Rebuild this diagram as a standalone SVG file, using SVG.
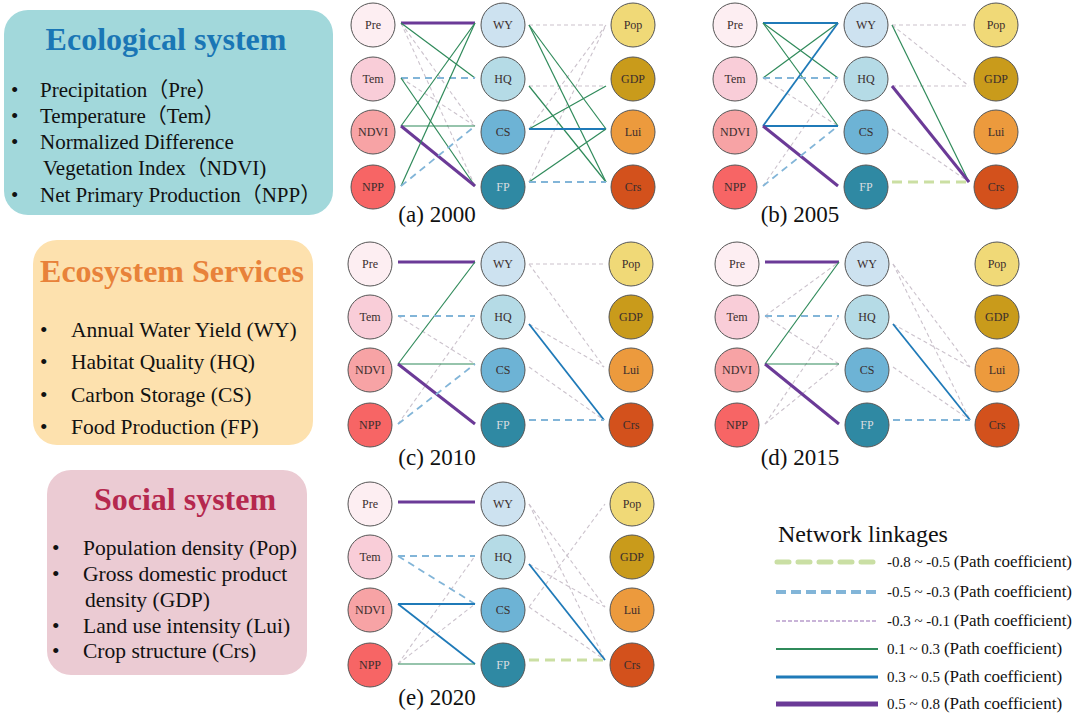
<svg xmlns="http://www.w3.org/2000/svg" width="1080" height="718" viewBox="0 0 1080 718">
<style>
.bg{fill:#ffffff}
.box-t{font-family:"Liberation Serif",serif;font-weight:bold;font-size:32px;text-anchor:middle}
.body{font-family:"Liberation Serif","Noto Sans CJK SC",serif;font-size:21px;fill:#111}
.body2{font-family:"Liberation Serif",serif;font-size:21.5px;fill:#111}
.nd circle{stroke:#555;stroke-width:1}
.nd text{font-family:"Liberation Serif",serif;font-size:12px;text-anchor:middle;fill:#3a2d2d}
.nd.lt text{fill:#d8dde0}
.cap{font-family:"Liberation Serif",serif;font-size:23px;text-anchor:middle;fill:#111}
#connectors line{fill:none}
.pu{stroke:#6b3a97;stroke-width:3}
.bl{stroke:#1f7ab8;stroke-width:1.8}
.gr{stroke:#2f8a5a;stroke-width:1.2}
.bd{stroke:#82b5d8;stroke-width:1.8;stroke-dasharray:7 5}
.gd{stroke:#cbc2cc;stroke-width:1.1;stroke-dasharray:4 3}
.lg{stroke:#cbdfa3;stroke-width:2.8;stroke-dasharray:10 6}
.c-pre{fill:#fdeef2}.c-tem{fill:#f9cdd8}.c-ndvi{fill:#f7a3a5}.c-npp{fill:#f76565}
.c-wy{fill:#cde2f0}.c-hq{fill:#b5dbe6}.c-cs{fill:#6db3d5}.c-fp{fill:#2f89a3}
.c-pop{fill:#f0d977}.c-gdp{fill:#c99b1b}.c-lui{fill:#ec9a3d}.c-crs{fill:#d3511c}
.lgt{font-family:"Liberation Serif",serif;fill:#111}
</style>
<rect class="bg" x="0" y="0" width="1080" height="718"/>

<!-- Left description boxes -->
<g id="box-ecological">
<rect x="4" y="10" width="329" height="205" rx="24" fill="#a2d8db"/>
<text class="box-t" x="166" y="50" fill="#1a76b5">Ecological system</text>
<g class="body">
<text x="11" y="97">•</text><text x="40" y="97">Precipitation（Pre）</text>
<text x="11" y="123">•</text><text x="40" y="123">Temperature（Tem）</text>
<text x="11" y="149">•</text><text x="40" y="149">Normalized Difference</text>
<text x="43" y="175">Vegetation Index（NDVI)</text>
<text x="11" y="202">•</text><text x="40" y="202">Net Primary Production（NPP）</text>
</g>
</g>

<g id="box-services">
<rect x="33" y="240" width="280" height="205" rx="24" fill="#fde1ae"/>
<text class="box-t" x="172" y="282" fill="#e8823a">Ecosystem Services</text>
<g class="body2">
<text x="40" y="337">•</text><text x="71" y="337">Annual Water Yield (WY)</text>
<text x="40" y="369">•</text><text x="71" y="369">Habitat Quality (HQ)</text>
<text x="40" y="402">•</text><text x="71" y="402">Carbon Storage (CS)</text>
<text x="40" y="434">•</text><text x="71" y="434">Food Production (FP)</text>
</g>
</g>

<g id="box-social">
<rect x="47" y="470" width="260" height="205" rx="24" fill="#ebcbd3"/>
<text class="box-t" x="185" y="510" fill="#b5284e">Social system</text>
<g class="body2">
<text x="52" y="555">•</text><text x="83" y="555">Population density (Pop)</text>
<text x="52" y="581">•</text><text x="83" y="581">Gross domestic product</text>
<text x="85" y="607">density (GDP)</text>
<text x="52" y="633">•</text><text x="83" y="633">Land use intensity (Lui)</text>
<text x="52" y="658">•</text><text x="83" y="658">Crop structure (Crs)</text>
</g>
</g>

<!-- Connectors -->
<g id="connectors">
<!-- panel a -->
<line class="gd" x1="401" y1="23" x2="475" y2="126"/>
<line class="gd" x1="401" y1="23" x2="475" y2="186"/>
<line class="gd" x1="401" y1="78" x2="475" y2="126"/>
<line class="pu" x1="401" y1="23" x2="475" y2="23"/>
<line class="gr" x1="401" y1="23" x2="475" y2="78"/>
<line class="bd" x1="401" y1="78" x2="475" y2="78"/>
<line class="gr" x1="401" y1="78" x2="475" y2="186"/>
<line class="gr" x1="401" y1="126" x2="475" y2="23"/>
<line class="gr" x1="401" y1="126" x2="475" y2="126"/>
<line class="pu" x1="401" y1="126" x2="475" y2="186"/>
<line class="gr" x1="401" y1="186" x2="475" y2="23"/>
<line class="bd" x1="401" y1="186" x2="475" y2="126"/>
<line class="gd" x1="529" y1="25" x2="606" y2="25"/>
<line class="gd" x1="529" y1="86" x2="606" y2="86"/>
<line class="gd" x1="529" y1="129" x2="606" y2="25"/>
<line class="gd" x1="529" y1="182" x2="606" y2="25"/>
<line class="gr" x1="529" y1="25" x2="606" y2="129"/>
<line class="gr" x1="529" y1="25" x2="606" y2="182"/>
<line class="gr" x1="529" y1="86" x2="606" y2="182"/>
<line class="gr" x1="529" y1="129" x2="606" y2="86"/>
<line class="bl" x1="529" y1="129" x2="606" y2="129"/>
<line class="gr" x1="529" y1="182" x2="606" y2="129"/>
<line class="bd" x1="529" y1="182" x2="606" y2="182"/>
<!-- panel b -->
<line class="gd" x1="763" y1="78" x2="838" y2="126"/>
<line class="gd" x1="763" y1="186" x2="838" y2="78"/>
<line class="bl" x1="763" y1="23" x2="838" y2="23"/>
<line class="gr" x1="763" y1="23" x2="838" y2="78"/>
<line class="gr" x1="763" y1="23" x2="838" y2="126"/>
<line class="gr" x1="763" y1="78" x2="838" y2="23"/>
<line class="bd" x1="763" y1="78" x2="838" y2="78"/>
<line class="bl" x1="763" y1="126" x2="838" y2="23"/>
<line class="bl" x1="763" y1="126" x2="838" y2="126"/>
<line class="pu" x1="763" y1="126" x2="838" y2="186"/>
<line class="bd" x1="763" y1="186" x2="838" y2="126"/>
<line class="gd" x1="892" y1="25" x2="969" y2="25"/>
<line class="gd" x1="892" y1="25" x2="969" y2="86"/>
<line class="gd" x1="892" y1="86" x2="969" y2="86"/>
<line class="gd" x1="892" y1="129" x2="969" y2="182"/>
<line class="gr" x1="892" y1="25" x2="969" y2="182"/>
<line class="pu" x1="892" y1="86" x2="969" y2="182"/>
<line class="lg" x1="892" y1="182" x2="969" y2="182"/>
<!-- panel c -->
<line class="gd" x1="398" y1="316" x2="475" y2="364"/>
<line class="gd" x1="398" y1="424" x2="475" y2="316"/>
<line class="pu" x1="398" y1="262" x2="475" y2="262"/>
<line class="gr" x1="398" y1="364" x2="475" y2="262"/>
<line class="bd" x1="398" y1="316" x2="475" y2="316"/>
<line class="gr" x1="398" y1="364" x2="475" y2="364"/>
<line class="pu" x1="398" y1="364" x2="475" y2="424"/>
<line class="bd" x1="398" y1="424" x2="475" y2="364"/>
<line class="gd" x1="529" y1="264" x2="604" y2="264"/>
<line class="gd" x1="529" y1="264" x2="604" y2="367"/>
<line class="gd" x1="529" y1="324" x2="604" y2="367"/>
<line class="gd" x1="529" y1="367" x2="604" y2="420"/>
<line class="bl" x1="529" y1="324" x2="604" y2="420"/>
<line class="bd" x1="529" y1="420" x2="604" y2="420"/>
<!-- panel d -->
<line class="gd" x1="765" y1="316" x2="839" y2="262"/>
<line class="gd" x1="765" y1="316" x2="839" y2="364"/>
<line class="gd" x1="765" y1="424" x2="839" y2="316"/>
<line class="gd" x1="765" y1="424" x2="839" y2="364"/>
<line class="pu" x1="765" y1="262" x2="839" y2="262"/>
<line class="gr" x1="765" y1="364" x2="839" y2="262"/>
<line class="bd" x1="765" y1="316" x2="839" y2="316"/>
<line class="gr" x1="765" y1="364" x2="839" y2="364"/>
<line class="pu" x1="765" y1="364" x2="839" y2="424"/>
<line class="gd" x1="893" y1="264" x2="970" y2="367"/>
<line class="gd" x1="893" y1="264" x2="970" y2="420"/>
<line class="gd" x1="893" y1="324" x2="970" y2="367"/>
<line class="gd" x1="893" y1="367" x2="970" y2="420"/>
<line class="bl" x1="893" y1="324" x2="970" y2="420"/>
<line class="bd" x1="893" y1="420" x2="970" y2="420"/>
<!-- panel e -->
<line class="gd" x1="398" y1="664" x2="475" y2="556"/>
<line class="gd" x1="398" y1="664" x2="475" y2="604"/>
<line class="pu" x1="398" y1="502" x2="475" y2="502"/>
<line class="bd" x1="398" y1="556" x2="475" y2="556"/>
<line class="bd" x1="398" y1="556" x2="475" y2="604"/>
<line class="bl" x1="398" y1="604" x2="475" y2="604"/>
<line class="bl" x1="398" y1="604" x2="475" y2="664"/>
<line class="gr" x1="398" y1="664" x2="475" y2="664"/>
<line class="gd" x1="529" y1="504" x2="605" y2="607"/>
<line class="gd" x1="529" y1="504" x2="605" y2="660"/>
<line class="gd" x1="529" y1="564" x2="605" y2="607"/>
<line class="gd" x1="529" y1="607" x2="605" y2="504"/>
<line class="gd" x1="529" y1="607" x2="605" y2="660"/>
<line class="bl" x1="529" y1="564" x2="605" y2="660"/>
<line class="lg" x1="529" y1="660" x2="605" y2="660"/>
</g>

<!-- Panel a nodes -->
<g id="a-Pre" class="nd"><circle class="c-pre" cx="373" cy="25" r="22"/><text x="373" y="29">Pre</text></g>
<g id="a-Tem" class="nd"><circle class="c-tem" cx="373" cy="79" r="22"/><text x="373" y="83">Tem</text></g>
<g id="a-NDVI" class="nd"><circle class="c-ndvi" cx="373" cy="132" r="22"/><text x="373" y="136">NDVI</text></g>
<g id="a-NPP" class="nd"><circle class="c-npp" cx="373" cy="187" r="22"/><text x="373" y="191">NPP</text></g>
<g id="a-WY" class="nd"><circle class="c-wy" cx="503" cy="25" r="22"/><text x="503" y="29">WY</text></g>
<g id="a-HQ" class="nd"><circle class="c-hq" cx="503" cy="79" r="22"/><text x="503" y="83">HQ</text></g>
<g id="a-CS" class="nd"><circle class="c-cs" cx="503" cy="132" r="22"/><text x="503" y="136">CS</text></g>
<g id="a-FP" class="nd lt"><circle class="c-fp" cx="503" cy="187" r="22"/><text x="503" y="191">FP</text></g>
<g id="a-Pop" class="nd"><circle class="c-pop" cx="633" cy="25" r="22"/><text x="633" y="29">Pop</text></g>
<g id="a-GDP" class="nd"><circle class="c-gdp" cx="633" cy="79" r="22"/><text x="633" y="83">GDP</text></g>
<g id="a-Lui" class="nd"><circle class="c-lui" cx="633" cy="132" r="22"/><text x="633" y="136">Lui</text></g>
<g id="a-Crs" class="nd"><circle class="c-crs" cx="633" cy="187" r="22"/><text x="633" y="191">Crs</text></g>
<text id="cap-a" class="cap" x="437" y="222">(a) 2000</text>

<!-- Panel b nodes -->
<g id="b-Pre" class="nd"><circle class="c-pre" cx="735" cy="25" r="22"/><text x="735" y="29">Pre</text></g>
<g id="b-Tem" class="nd"><circle class="c-tem" cx="735" cy="79" r="22"/><text x="735" y="83">Tem</text></g>
<g id="b-NDVI" class="nd"><circle class="c-ndvi" cx="735" cy="132" r="22"/><text x="735" y="136">NDVI</text></g>
<g id="b-NPP" class="nd"><circle class="c-npp" cx="735" cy="187" r="22"/><text x="735" y="191">NPP</text></g>
<g id="b-WY" class="nd"><circle class="c-wy" cx="866" cy="25" r="22"/><text x="866" y="29">WY</text></g>
<g id="b-HQ" class="nd"><circle class="c-hq" cx="866" cy="79" r="22"/><text x="866" y="83">HQ</text></g>
<g id="b-CS" class="nd"><circle class="c-cs" cx="866" cy="132" r="22"/><text x="866" y="136">CS</text></g>
<g id="b-FP" class="nd lt"><circle class="c-fp" cx="866" cy="187" r="22"/><text x="866" y="191">FP</text></g>
<g id="b-Pop" class="nd"><circle class="c-pop" cx="996" cy="25" r="22"/><text x="996" y="29">Pop</text></g>
<g id="b-GDP" class="nd"><circle class="c-gdp" cx="996" cy="79" r="22"/><text x="996" y="83">GDP</text></g>
<g id="b-Lui" class="nd"><circle class="c-lui" cx="996" cy="132" r="22"/><text x="996" y="136">Lui</text></g>
<g id="b-Crs" class="nd"><circle class="c-crs" cx="996" cy="187" r="22"/><text x="996" y="191">Crs</text></g>
<text id="cap-b" class="cap" x="800" y="222">(b) 2005</text>

<!-- Panel c nodes -->
<g id="c-Pre" class="nd"><circle class="c-pre" cx="370" cy="264" r="22"/><text x="370" y="268">Pre</text></g>
<g id="c-Tem" class="nd"><circle class="c-tem" cx="370" cy="317" r="22"/><text x="370" y="321">Tem</text></g>
<g id="c-NDVI" class="nd"><circle class="c-ndvi" cx="370" cy="370" r="22"/><text x="370" y="374">NDVI</text></g>
<g id="c-NPP" class="nd"><circle class="c-npp" cx="370" cy="425" r="22"/><text x="370" y="429">NPP</text></g>
<g id="c-WY" class="nd"><circle class="c-wy" cx="503" cy="264" r="22"/><text x="503" y="268">WY</text></g>
<g id="c-HQ" class="nd"><circle class="c-hq" cx="503" cy="317" r="22"/><text x="503" y="321">HQ</text></g>
<g id="c-CS" class="nd"><circle class="c-cs" cx="503" cy="370" r="22"/><text x="503" y="374">CS</text></g>
<g id="c-FP" class="nd lt"><circle class="c-fp" cx="503" cy="425" r="22"/><text x="503" y="429">FP</text></g>
<g id="c-Pop" class="nd"><circle class="c-pop" cx="631" cy="264" r="22"/><text x="631" y="268">Pop</text></g>
<g id="c-GDP" class="nd"><circle class="c-gdp" cx="631" cy="317" r="22"/><text x="631" y="321">GDP</text></g>
<g id="c-Lui" class="nd"><circle class="c-lui" cx="631" cy="370" r="22"/><text x="631" y="374">Lui</text></g>
<g id="c-Crs" class="nd"><circle class="c-crs" cx="631" cy="425" r="22"/><text x="631" y="429">Crs</text></g>
<text id="cap-c" class="cap" x="437" y="465">(c) 2010</text>

<!-- Panel d nodes -->
<g id="d-Pre" class="nd"><circle class="c-pre" cx="737" cy="264" r="22"/><text x="737" y="268">Pre</text></g>
<g id="d-Tem" class="nd"><circle class="c-tem" cx="737" cy="317" r="22"/><text x="737" y="321">Tem</text></g>
<g id="d-NDVI" class="nd"><circle class="c-ndvi" cx="737" cy="370" r="22"/><text x="737" y="374">NDVI</text></g>
<g id="d-NPP" class="nd"><circle class="c-npp" cx="737" cy="425" r="22"/><text x="737" y="429">NPP</text></g>
<g id="d-WY" class="nd"><circle class="c-wy" cx="867" cy="264" r="22"/><text x="867" y="268">WY</text></g>
<g id="d-HQ" class="nd"><circle class="c-hq" cx="867" cy="317" r="22"/><text x="867" y="321">HQ</text></g>
<g id="d-CS" class="nd"><circle class="c-cs" cx="867" cy="370" r="22"/><text x="867" y="374">CS</text></g>
<g id="d-FP" class="nd lt"><circle class="c-fp" cx="867" cy="425" r="22"/><text x="867" y="429">FP</text></g>
<g id="d-Pop" class="nd"><circle class="c-pop" cx="997" cy="264" r="22"/><text x="997" y="268">Pop</text></g>
<g id="d-GDP" class="nd"><circle class="c-gdp" cx="997" cy="317" r="22"/><text x="997" y="321">GDP</text></g>
<g id="d-Lui" class="nd"><circle class="c-lui" cx="997" cy="370" r="22"/><text x="997" y="374">Lui</text></g>
<g id="d-Crs" class="nd"><circle class="c-crs" cx="997" cy="425" r="22"/><text x="997" y="429">Crs</text></g>
<text id="cap-d" class="cap" x="800" y="465">(d) 2015</text>

<!-- Panel e nodes -->
<g id="e-Pre" class="nd"><circle class="c-pre" cx="370" cy="504" r="22"/><text x="370" y="508">Pre</text></g>
<g id="e-Tem" class="nd"><circle class="c-tem" cx="370" cy="557" r="22"/><text x="370" y="561">Tem</text></g>
<g id="e-NDVI" class="nd"><circle class="c-ndvi" cx="370" cy="610" r="22"/><text x="370" y="614">NDVI</text></g>
<g id="e-NPP" class="nd"><circle class="c-npp" cx="370" cy="665" r="22"/><text x="370" y="669">NPP</text></g>
<g id="e-WY" class="nd"><circle class="c-wy" cx="503" cy="504" r="22"/><text x="503" y="508">WY</text></g>
<g id="e-HQ" class="nd"><circle class="c-hq" cx="503" cy="557" r="22"/><text x="503" y="561">HQ</text></g>
<g id="e-CS" class="nd"><circle class="c-cs" cx="503" cy="610" r="22"/><text x="503" y="614">CS</text></g>
<g id="e-FP" class="nd lt"><circle class="c-fp" cx="503" cy="665" r="22"/><text x="503" y="669">FP</text></g>
<g id="e-Pop" class="nd"><circle class="c-pop" cx="632" cy="504" r="22"/><text x="632" y="508">Pop</text></g>
<g id="e-GDP" class="nd"><circle class="c-gdp" cx="632" cy="557" r="22"/><text x="632" y="561">GDP</text></g>
<g id="e-Lui" class="nd"><circle class="c-lui" cx="632" cy="610" r="22"/><text x="632" y="614">Lui</text></g>
<g id="e-Crs" class="nd"><circle class="c-crs" cx="632" cy="665" r="22"/><text x="632" y="669">Crs</text></g>
<text id="cap-e" class="cap" x="437" y="705">(e) 2020</text>

<!-- Legend -->
<g id="legend">
<text class="lgt" x="778" y="542" font-size="24">Network linkages</text>
<line x1="777" y1="562" x2="876" y2="562" stroke="#cadfa4" stroke-width="5" stroke-linecap="round" stroke-dasharray="12 9"/>
<line x1="776" y1="592" x2="878" y2="592" stroke="#82b5d8" stroke-width="4" stroke-dasharray="10 5"/>
<line x1="776" y1="621" x2="878" y2="621" stroke="#c9b4d8" stroke-width="2" stroke-dasharray="4 2"/>
<line x1="776" y1="649" x2="878" y2="649" stroke="#2f8a5a" stroke-width="2"/>
<line x1="776" y1="677" x2="878" y2="677" stroke="#1f7ab8" stroke-width="3"/>
<line x1="776" y1="704" x2="878" y2="704" stroke="#6b3a97" stroke-width="5"/>
<text class="lgt" x="887" y="567"><tspan font-size="15">-0.8 ~ -0.5 </tspan><tspan font-size="17">(Path coefficient)</tspan></text>
<text class="lgt" x="887" y="597"><tspan font-size="15">-0.5 ~ -0.3 </tspan><tspan font-size="17">(Path coefficient)</tspan></text>
<text class="lgt" x="887" y="626"><tspan font-size="15">-0.3 ~ -0.1 </tspan><tspan font-size="17">(Path coefficient)</tspan></text>
<text class="lgt" x="887" y="654"><tspan font-size="15">0.1 ~ 0.3 </tspan><tspan font-size="17">(Path coefficient)</tspan></text>
<text class="lgt" x="887" y="682"><tspan font-size="15">0.3 ~ 0.5 </tspan><tspan font-size="17">(Path coefficient)</tspan></text>
<text class="lgt" x="887" y="709"><tspan font-size="15">0.5 ~ 0.8 </tspan><tspan font-size="17">(Path coefficient)</tspan></text>
</g>
</svg>
